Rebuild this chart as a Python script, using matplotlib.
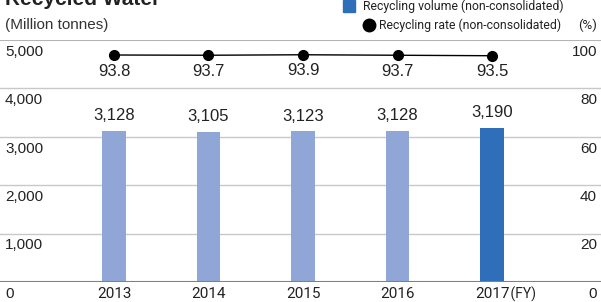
import matplotlib.pyplot as plt
import matplotlib.transforms as mtransforms
from matplotlib import font_manager

# data
years = ["2013", "2014", "2015", "2016", "2017"]
volume = [3128, 3105, 3123, 3128, 3190]
rate = [93.8, 93.7, 93.9, 93.7, 93.5]
left_ticks = [0, 1000, 2000, 3000, 4000, 5000]
right_ticks = [0, 20, 40, 60, 80, 100]

names = {f.name for f in font_manager.fontManager.ttflist}
narrow = "Liberation Sans Narrow" if "Liberation Sans Narrow" in names else "Roboto"
plt.rcParams["font.family"] = ["Liberation Sans", "DejaVu Sans"]

W, H = 601, 302
fig = plt.figure(figsize=(W / 100, H / 100), dpi=100)

def fy(py):
    return 1 - py / H

ax = fig.add_axes([0, fy(282), 1, fy(40) - fy(282)])
ax.set_xlim(-1.206, 5.153)
ax.set_ylim(0, 5000)
ax.axis("off")

light = "#8fa6d6"
dark = "#2f6fb9"
colors = [light] * 4 + [dark]
x = list(range(len(years)))

for v in left_ticks[1:5]:
    ax.axhline(v, color="#c8c8c8", lw=1, zorder=0)
ax.axhline(5000, color="#b4b4b4", lw=1.5, zorder=0)
ax.axhline(0, color="#808080", lw=1.5, zorder=3)

ax.bar(x, volume, width=0.245, color=colors, zorder=2)
for xi, v in zip(x, volume):
    ax.text(xi, v + 150, f"{v:,}", ha="center", va="bottom", fontsize=12, color="#222222")

ax2 = ax.twinx()
ax2.set_ylim(0, 100)
ax2.axis("off")
ax2.plot(x, rate, color="black", lw=1, marker="o", ms=7, zorder=4)
for xi, r in zip(x, rate):
    ax2.text(xi, r - 3.6, f"{r}", ha="center", va="top", fontsize=12, color="#222222")

# axis labels drawn under gridlines
tl = mtransforms.blended_transform_factory(fig.transFigure, ax.transData)
for v in left_ticks:
    ax.text(5 / W, v - 100, f"{v:,}", transform=tl, ha="left", va="top",
            fontsize=11, color="#222222")
tr = mtransforms.blended_transform_factory(fig.transFigure, ax2.transData)
for v in right_ticks:
    ax2.text(597 / W, v - 2.0, f"{v}", transform=tr, ha="right", va="top",
             fontsize=11, color="#222222")

for xi, yr in zip(x, years):
    ax.text(xi, -100, yr, ha="center", va="top", fontsize=11,
            family=narrow, color="#222222")
ax.text(4.16, -100, " (FY)", ha="left", va="top", fontsize=10,
        family=narrow, color="#222222")

fig.text(5 / W, fy(25), "(Million tonnes)", ha="left", va="center",
         fontsize=11, color="#333333")
fig.text(5 / W, fy(5), "Recycled Water", ha="left", va="baseline",
         fontsize=15, fontweight="bold", color="#222222")

# legend
fig.patches.append(plt.Rectangle((343 / W, fy(12)), 12 / W, 12 / H,
                                 transform=fig.transFigure, color=dark))
fig.text(363 / W, fy(6), "Recycling volume (non-consolidated)", ha="left",
         va="center", fontsize=8.8, family=narrow, color="#222222")
fig.add_artist(plt.Line2D([369 / W], [fy(25)], marker="o", ms=9, color="black",
                          transform=fig.transFigure))
fig.text(379 / W, fy(25), "Recycling rate (non-consolidated)", ha="left",
         va="center", fontsize=8.8, family=narrow, color="#222222")
fig.text(597 / W, fy(25), "(%)", ha="right", va="center", fontsize=9.5,
         family=narrow, color="#222222")

fig.savefig("out.png", dpi=100)
